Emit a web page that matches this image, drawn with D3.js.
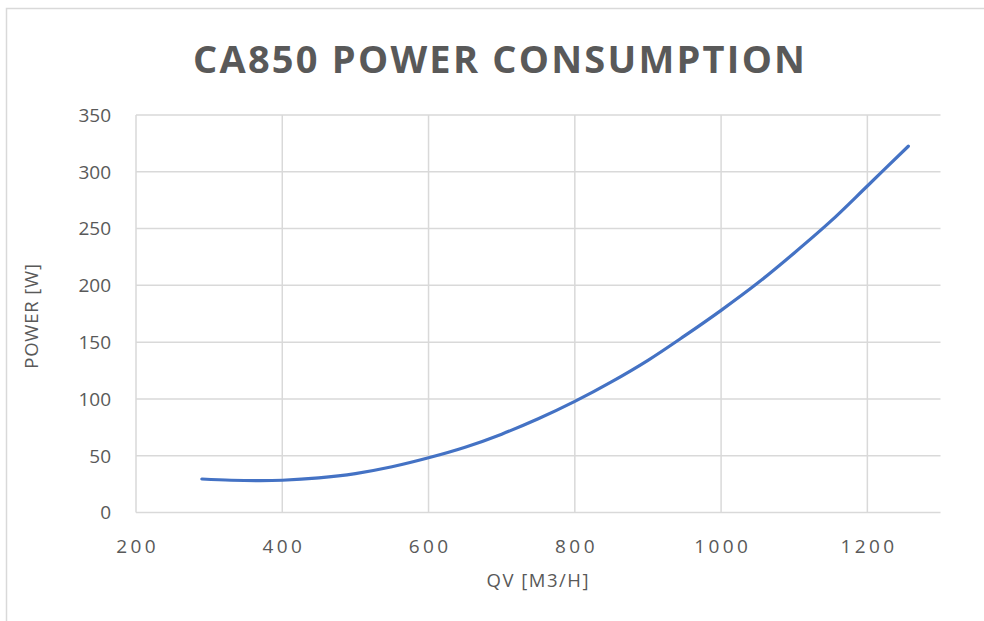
<!DOCTYPE html>
<html>
<head>
<meta charset="utf-8">
<script src="https://cdn.jsdelivr.net/npm/d3@7"></script>
<style>
  html, body { margin: 0; padding: 0; background: #fff; }
  svg { display: block; }
  text { font-family: "Open Sans", sans-serif; fill: #595959; }
</style>
</head>
<body>
<svg id="chart" width="984" height="621"></svg>
<script>
// Data
const flowValues  = [290, 330, 370, 400, 450, 500, 550, 600, 650, 700, 750, 800, 850, 900, 950, 1000, 1050, 1100, 1150, 1200, 1256];
const powerValues = [29.5, 28.4, 28.0, 28.4, 30.5, 34.3, 40.3, 48.2, 57.5, 69.0, 82.5, 97.8, 115, 134, 155.5, 178, 202, 228.5, 256.5, 287.5, 322.5];
const xTicks = [200, 400, 600, 800, 1000, 1200];
const yTicks = [0, 50, 100, 150, 200, 250, 300, 350];
const titleText = "CA850 POWER CONSUMPTION";
const xTitle = "QV [M3/H]";
const yTitle = "POWER [W]";

const svg = d3.select("#chart");

// outer chart frame (cropped at right/bottom as in reference)
svg.append("rect")
  .attr("x", 6.5).attr("y", 8.5)
  .attr("width", 1000).attr("height", 700)
  .attr("fill", "#fff")
  .attr("stroke", "#d9d9d9").attr("stroke-width", 1.5);

const x = d3.scaleLinear().domain([200, 1300]).range([136, 940.5]);
const y = d3.scaleLinear().domain([0, 350]).range([512.5, 115]);

// gridlines
const g = svg.append("g");
g.selectAll("line.h").data(yTicks).join("line")
  .attr("class", "h")
  .attr("x1", x(200)).attr("x2", x(1300))
  .attr("y1", d => y(d)).attr("y2", d => y(d))
  .attr("stroke", "#d9d9d9").attr("stroke-width", 1.5);
g.selectAll("line.v").data(xTicks.filter(d => d > 200)).join("line")
  .attr("class", "v")
  .attr("x1", d => x(d)).attr("x2", d => x(d))
  .attr("y1", y(350)).attr("y2", y(0))
  .attr("stroke", "#d9d9d9").attr("stroke-width", 1.5);
// left axis line
g.append("line")
  .attr("x1", x(200)).attr("x2", x(200))
  .attr("y1", y(350)).attr("y2", y(0))
  .attr("stroke", "#d9d9d9").attr("stroke-width", 1.5);

// y tick labels
svg.append("g").selectAll("text").data(yTicks).join("text")
  .attr("x", 111)
  .attr("y", d => y(d))
  .attr("dy", "0.36em")
  .attr("text-anchor", "end")
  .attr("font-size", 19)
  .text(d => d);

// x tick labels (letter-spaced)
const ls = 3.4;
svg.append("g").selectAll("text").data(xTicks).join("text")
  .attr("x", d => x(d) + ls / 2)
  .attr("y", 553)
  .attr("text-anchor", "middle")
  .attr("font-size", 19)
  .attr("letter-spacing", ls)
  .text(d => d);

// line
const line = d3.line()
  .x((d, i) => x(flowValues[i]))
  .y(d => y(d))
  .curve(d3.curveCatmullRom.alpha(0.5));
svg.append("path")
  .datum(powerValues)
  .attr("d", line)
  .attr("fill", "none")
  .attr("stroke", "#4472C4")
  .attr("stroke-width", 3.2)
  .attr("stroke-linecap", "round");

// title
svg.append("text")
  .attr("x", 499).attr("y", 73)
  .attr("text-anchor", "middle")
  .attr("font-size", 38)
  .attr("font-weight", "bold")
  .attr("textLength", 612)
  .attr("lengthAdjust", "spacing")
  .text(titleText);

// axis titles
svg.append("text")
  .attr("x", x(750)).attr("y", 587)
  .attr("text-anchor", "middle")
  .attr("font-size", 18.5)
  .attr("letter-spacing", 1.5)
  .text(xTitle);

svg.append("text")
  .attr("transform", `translate(38,${316}) rotate(-90)`)
  .attr("text-anchor", "middle")
  .attr("font-size", 18.5)
  .attr("letter-spacing", 0.8)
  .text(yTitle);
</script>
</body>
</html>
